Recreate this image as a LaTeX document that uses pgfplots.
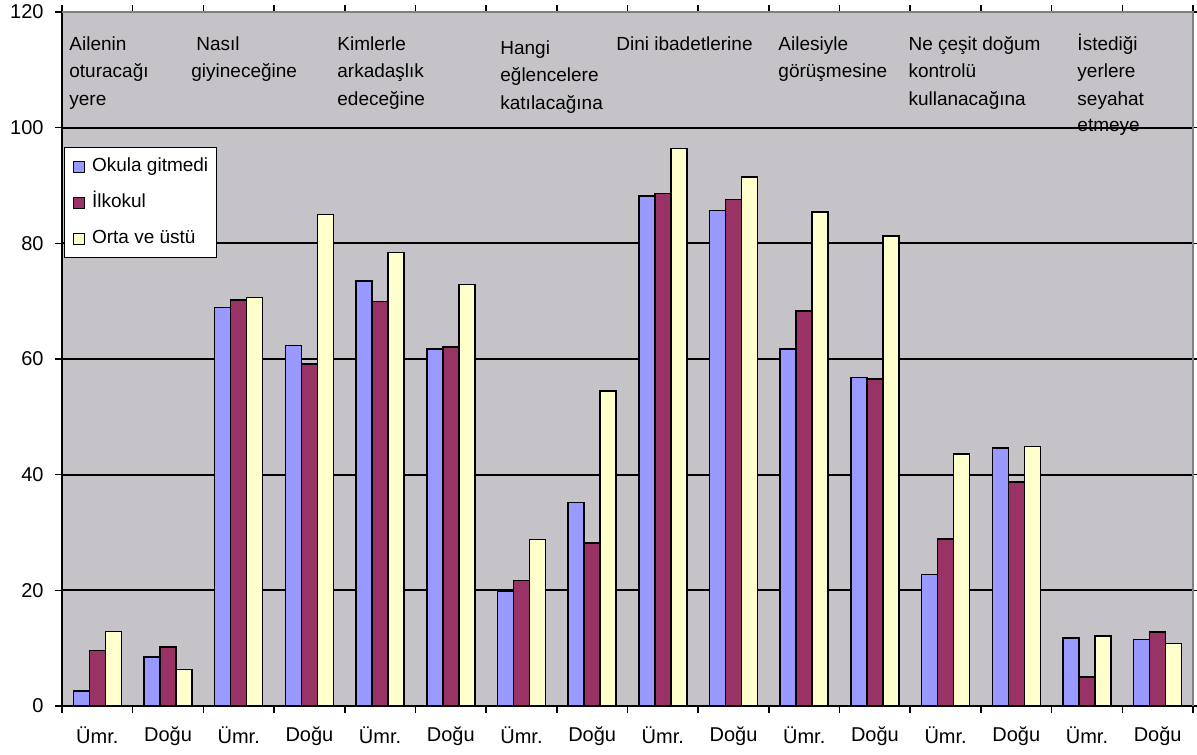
\documentclass[border=0pt]{standalone}
\usepackage{pgfplots}
\pgfplotsset{compat=1.18}
\usepackage{fontspec}
\setmainfont{Liberation Sans}
\definecolor{cblue}{HTML}{9999FF}
\definecolor{cmaroon}{HTML}{993366}
\definecolor{cyellow}{HTML}{FFFFCC}
\definecolor{bg}{RGB}{197,195,199}
\newcommand{\lf}{\fontsize{9.5}{11}\selectfont}
\newcommand{\tf}{\fontsize{10}{12}\selectfont}
\begin{document}
\begin{tikzpicture}
\begin{axis}[
  name=ax,
  at={(0,0)}, anchor=south west,
  scale only axis,
  width=565.5pt, height=347pt,
  xmin=0, xmax=16, ymin=0, ymax=120,
  ybar=0pt, bar width=8pt,
  axis background/.style={fill=bg},
  axis line style={black, line width=0.8pt},
  xtick={0,...,16},
  x tick label as interval,
  xticklabels={Ümr.,Doğu,Ümr.,Doğu,Ümr.,Doğu,Ümr.,Doğu,Ümr.,Doğu,Ümr.,Doğu,Ümr.,Doğu,Ümr.,Doğu},
  ytick={0,20,...,120},
  ymajorgrids,
  grid style={black, line width=0.85pt},
  tick align=outside,
  major tick length=3.5pt,
  tick style={black, line width=0.8pt},
  tick label style={font=\tf},
  /pgf/number format/assume math mode=true,
  yticklabel style={xshift=-2.2pt},
  xticklabel style={yshift=-3.5pt},
  clip=false,
  legend style={at={(0.0018,0.8055)}, anchor=north west, draw=black, fill=white,
    line width=0.7pt, inner xsep=4pt, inner ysep=5pt, row sep=9pt,
    font=\lf, nodes={inner sep=0pt, text height=7pt, text depth=2pt}},
  legend cell align=left,
  legend image code/.code={\draw[#1,draw=black,line width=0.6pt] (0pt,-2.75pt) rectangle (5.5pt,2.75pt); \path (9pt,0pt);},
  every axis plot/.append style={draw=black, line width=0.75pt},
]
\addplot[fill=cblue] coordinates {(0.5,2.6) (1.5,8.5) (2.5,68.9) (3.5,62.3) (4.5,73.5) (5.5,61.7) (6.5,19.9) (7.5,35.2) (8.5,88.2) (9.5,85.7) (10.5,61.7) (11.5,56.8) (12.5,22.7) (13.5,44.6) (14.5,11.8) (15.5,11.5)};
\addplot[fill=cmaroon] coordinates {(0.5,9.6) (1.5,10.2) (2.5,70.2) (3.5,59.1) (4.5,69.9) (5.5,62.1) (6.5,21.7) (7.5,28.2) (8.5,88.6) (9.5,87.6) (10.5,68.3) (11.5,56.5) (12.5,28.9) (13.5,38.7) (14.5,5.0) (15.5,12.8)};
\addplot[fill=cyellow] coordinates {(0.5,12.9) (1.5,6.3) (2.5,70.6) (3.5,85.0) (4.5,78.4) (5.5,72.9) (6.5,28.8) (7.5,54.5) (8.5,96.4) (9.5,91.5) (10.5,85.4) (11.5,81.3) (12.5,43.6) (13.5,44.9) (14.5,12.1) (15.5,10.8)};
\legend{Okula gitmedi,İlkokul,Orta ve üstü}
\draw[gray, line width=0.9pt] (rel axis cs:0,1) -- (rel axis cs:1,1) -- (rel axis cs:1,0);
\node[anchor=base west,inner sep=0pt,font=\lf] at (axis cs:0.099,113.26) {Ailenin};
\node[anchor=base west,inner sep=0pt,font=\lf] at (axis cs:0.099,108.6) {oturacağı};
\node[anchor=base west,inner sep=0pt,font=\lf] at (axis cs:0.099,103.9) {yere};
\node[anchor=base west,inner sep=0pt,font=\lf] at (axis cs:1.896,113.26) {Nasıl};
\node[anchor=base west,inner sep=0pt,font=\lf] at (axis cs:1.825,108.6) {giyineceğine};
\node[anchor=base west,inner sep=0pt,font=\lf] at (axis cs:3.89,113.26) {Kimlerle};
\node[anchor=base west,inner sep=0pt,font=\lf] at (axis cs:3.89,108.6) {arkadaşlık};
\node[anchor=base west,inner sep=0pt,font=\lf] at (axis cs:3.89,103.9) {edeceğine};
\node[anchor=base west,inner sep=0pt,font=\lf] at (axis cs:6.196,112.57) {Hangi};
\node[anchor=base west,inner sep=0pt,font=\lf] at (axis cs:6.196,107.9) {eğlencelere};
\node[anchor=base west,inner sep=0pt,font=\lf] at (axis cs:6.196,103.2) {katılacağına};
\node[anchor=base west,inner sep=0pt,font=\lf] at (axis cs:7.837,113.26) {Dini ibadetlerine};
\node[anchor=base west,inner sep=0pt,font=\lf] at (axis cs:10.13,113.26) {Ailesiyle};
\node[anchor=base west,inner sep=0pt,font=\lf] at (axis cs:10.13,108.6) {görüşmesine};
\node[anchor=base west,inner sep=0pt,font=\lf] at (axis cs:11.97,113.26) {Ne çeşit doğum};
\node[anchor=base west,inner sep=0pt,font=\lf] at (axis cs:11.97,108.6) {kontrolü};
\node[anchor=base west,inner sep=0pt,font=\lf] at (axis cs:11.97,103.9) {kullanacağına};
\node[anchor=base west,inner sep=0pt,font=\lf] at (axis cs:14.36,113.26) {İstediği};
\node[anchor=base west,inner sep=0pt,font=\lf] at (axis cs:14.36,108.6) {yerlere};
\node[anchor=base west,inner sep=0pt,font=\lf] at (axis cs:14.36,103.9) {seyahat};
\node[anchor=base west,inner sep=0pt,font=\lf] at (axis cs:14.36,99.3) {etmeye};
\end{axis}
\pgfresetboundingbox
\path[use as bounding box] ([xshift=-31pt,yshift=-24pt]ax.south west) rectangle ([xshift=2pt,yshift=6pt]ax.north east);
\end{tikzpicture}
\end{document}
